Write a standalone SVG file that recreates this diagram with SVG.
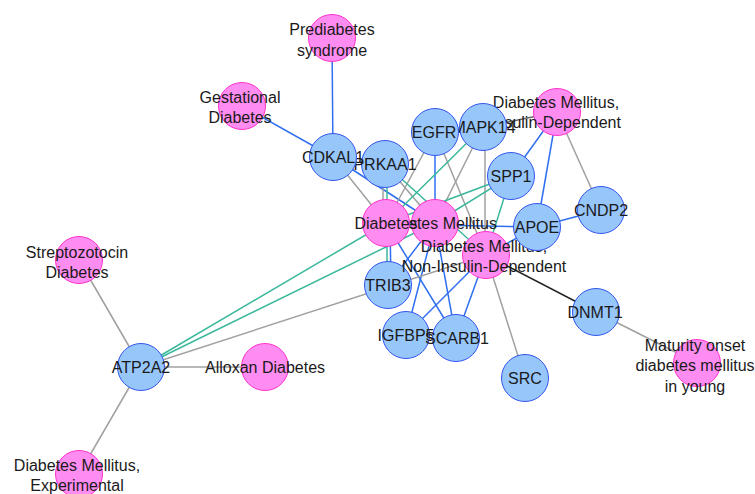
<svg xmlns="http://www.w3.org/2000/svg" width="755" height="494" viewBox="0 0 755 494">
<style>
.e{fill:none;stroke-width:1.5}
.b{stroke:#2f6ff0}
.t{stroke:#3bb89c}
.g{stroke:#a0a0a0}
.k{stroke:#222}
.d circle{fill:#ff8cf0;stroke:#ff33cc;stroke-width:1}
.p circle{fill:#97c6fa;stroke:#3355ee;stroke-width:1}
text{font-family:"Liberation Sans",Arial,sans-serif;font-size:16px;fill:#1a1a1a;text-anchor:middle}
</style>
<rect width="755" height="494" fill="#fff"/>
<g id="edges">
<line class="e b" x1="332" y1="38" x2="333" y2="157"/>
<line class="e b" x1="242" y1="106" x2="333" y2="157"/>
<line class="e b" x1="333" y1="157" x2="435" y2="223"/>
<line class="e b" x1="435" y1="132" x2="435" y2="223"/>
<line class="e b" x1="557" y1="112" x2="511" y2="176"/>
<line class="e b" x1="557" y1="112" x2="537" y2="227"/>
<line class="e b" x1="537" y1="227" x2="601" y2="210"/>
<line class="e b" x1="537" y1="227" x2="435" y2="225"/>
<line class="e b" x1="537" y1="227" x2="486" y2="255"/>
<line class="e b" x1="390" y1="223" x2="391" y2="285"/>
<line class="e b" x1="386" y1="223" x2="456" y2="338"/>
<line class="e b" x1="435" y1="223" x2="406" y2="335"/>
<line class="e b" x1="435" y1="223" x2="456" y2="338"/>
<line class="e b" x1="486" y1="255" x2="406" y2="335"/>
<line class="e b" x1="486" y1="255" x2="456" y2="338"/>
<line class="e b" x1="435" y1="223" x2="388" y2="285"/>
<line class="e g" x1="333" y1="157" x2="386" y2="223"/>
<line class="e g" x1="383" y1="164" x2="383" y2="223"/>
<line class="e g" x1="385" y1="164" x2="435" y2="223"/>
<line class="e g" x1="435" y1="132" x2="386" y2="223"/>
<line class="e g" x1="435" y1="132" x2="486" y2="255"/>
<line class="e g" x1="483" y1="127" x2="435" y2="223"/>
<line class="e g" x1="485" y1="127" x2="485" y2="255"/>
<line class="e g" x1="557" y1="112" x2="601" y2="210"/>
<line class="e" stroke="#666" x1="557" y1="112" x2="483" y2="127"/>
<line class="e g" x1="486" y1="255" x2="525" y2="378"/>
<line class="e g" x1="141" y1="367" x2="79" y2="260"/>
<line class="e g" x1="141" y1="367" x2="265" y2="367"/>
<line class="e g" x1="141" y1="367" x2="79" y2="474"/>
<line class="e g" x1="141" y1="367" x2="486" y2="255"/>
<line class="e g" x1="596" y1="312" x2="697" y2="363"/>
<line class="e t" x1="141" y1="367" x2="386" y2="223"/>
<line class="e t" x1="141" y1="367" x2="435" y2="223"/>
<line class="e t" x1="483" y1="127" x2="386" y2="223"/>
<line class="e t" x1="511" y1="176" x2="386" y2="223"/>
<line class="e t" x1="511" y1="176" x2="435" y2="223"/>
<line class="e t" x1="511" y1="176" x2="486" y2="255"/>
<line class="e t" x1="385" y1="164" x2="486" y2="255"/>
<line class="e t" x1="387" y1="164" x2="387" y2="285"/>
<line class="e k" x1="486" y1="255" x2="596" y2="312"/>
</g>
<g id="n-prediabetes" class="d"><circle cx="332" cy="38" r="23.5"/><text x="332" y="35">Prediabetes</text><text x="332" y="56">syndrome</text></g>
<g id="n-gestational" class="d"><circle cx="242" cy="106" r="23.5"/><text x="240" y="103">Gestational</text><text x="240" y="123">Diabetes</text></g>
<g id="n-prkaa1" class="p"><circle cx="385" cy="164" r="23.5"/><text x="385" y="170">PRKAA1</text></g>
<g id="n-cdkal1" class="p"><circle cx="333" cy="157" r="23.5"/><text x="333" y="163">CDKAL1</text></g>
<g id="n-dm-insulin" class="d"><circle cx="557" cy="112" r="23.5"/><text x="556" y="108">Diabetes Mellitus,</text><text x="556" y="128">Insulin-Dependent</text></g>
<g id="n-mapk14" class="p"><circle cx="483" cy="127" r="23.5"/><text x="484" y="133">MAPK14</text></g>
<g id="n-egfr" class="p"><circle cx="435" cy="132" r="23.5"/><text x="434" y="138">EGFR</text></g>
<g id="n-spp1" class="p"><circle cx="511" cy="176" r="23.5"/><text x="511" y="182">SPP1</text></g>
<g id="n-cndp2" class="p"><circle cx="601" cy="210" r="23.5"/><text x="601" y="216">CNDP2</text></g>
<g id="n-dm" class="d"><circle cx="435" cy="223" r="23.5"/><text x="436" y="229">Diabetes Mellitus</text></g>
<g id="n-diabetes" class="d"><circle cx="386" cy="223" r="23.5"/><text x="386" y="229">Diabetes</text></g>
<g id="n-trib3" class="p"><circle cx="388" cy="285" r="23.5"/><text x="388" y="291">TRIB3</text></g>
<g id="n-dm-noninsulin" class="d"><circle cx="486" cy="255" r="23.5"/><text x="484" y="252">Diabetes Mellitus,</text><text x="484" y="272">Non-Insulin-Dependent</text></g>
<g id="n-apoe" class="p"><circle cx="537" cy="227" r="23.5"/><text x="537" y="233">APOE</text></g>
<g id="n-igfbp5" class="p"><circle cx="406" cy="335" r="23.5"/><text x="406" y="341">IGFBP5</text></g>
<g id="n-scarb1" class="p"><circle cx="456" cy="338" r="23.5"/><text x="457" y="344">SCARB1</text></g>
<g id="n-src" class="p"><circle cx="525" cy="378" r="23.5"/><text x="525" y="384">SRC</text></g>
<g id="n-dnmt1" class="p"><circle cx="596" cy="312" r="23.5"/><text x="595" y="318">DNMT1</text></g>
<g id="n-mody" class="d"><circle cx="697" cy="363" r="23.5"/><text x="695" y="351">Maturity onset</text><text x="695" y="371">diabetes mellitus</text><text x="695" y="392">in young</text></g>
<g id="n-streptozotocin" class="d"><circle cx="79" cy="260" r="23.5"/><text x="77" y="258">Streptozotocin</text><text x="77" y="278">Diabetes</text></g>
<g id="n-atp2a2" class="p"><circle cx="141" cy="367" r="23.5"/><text x="141" y="373">ATP2A2</text></g>
<g id="n-alloxan" class="d"><circle cx="265" cy="367" r="23.5"/><text x="265" y="373">Alloxan Diabetes</text></g>
<g id="n-dm-experimental" class="d"><circle cx="79" cy="474" r="23.5"/><text x="77" y="471">Diabetes Mellitus,</text><text x="77" y="491">Experimental</text></g>
</svg>
